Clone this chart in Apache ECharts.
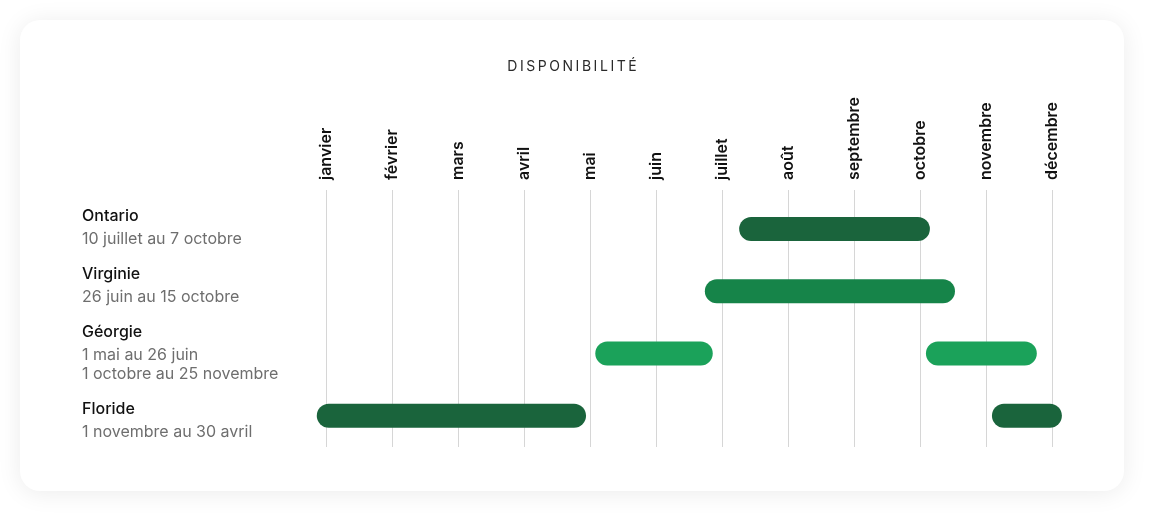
<!DOCTYPE html>
<html>
<head>
<meta charset="utf-8">
<script src="https://cdn.jsdelivr.net/npm/echarts@6/dist/echarts.min.js"></script>
<style>
html,body{margin:0;padding:0;background:#ffffff;}
#c{width:1152px;height:519px;}
</style>
</head>
<body>
<div id="c"></div>
<script>
// ---- data ----
var titleText = 'DISPONIBILITÉ';
var months = ['janvier','février','mars','avril','mai','juin','juillet','août','septembre','octobre','novembre','décembre'];
var regions = ['Ontario','Virginie','Géorgie','Floride'];
var periodTexts = [
  ['10 juillet au 7 octobre'],
  ['26 juin au 15 octobre'],
  ['1 mai au 26 juin','1 octobre au 25 novembre'],
  ['1 novembre au 30 avril']
];
// bars: [start (months from 1 Jan), end, row index, colour index]
var barStarts = [6.26, 5.74, 4.08, 9.09, -0.14, 10.09];
var barEnds   = [9.15, 9.53, 5.86, 10.77, 3.94, 11.15];
var barRows   = [0, 1, 2, 2, 3, 3];
var barColorIdx = [0, 1, 2, 2, 0, 0];
var palette = ['#1a643c', '#168449', '#1ba25a'];

var chart = echarts.init(document.getElementById('c'));
var barData = barStarts.map(function(s, i){ return [s, barEnds[i], barRows[i], barColorIdx[i]]; });

function spaced(t){ return t.split('').join('\u2009'); }

var option = {
  backgroundColor: '#ffffff',
  animation: false,
  title: {
    text: spaced(titleText),
    left: 567, top: 55, textAlign: 'center',
    textStyle: {fontFamily: 'Inter', fontSize: 14, fontWeight: 400, color: '#2a2a2a'}
  },
  grid: {left: 326, right: 100, top: 190, bottom: 72},
  xAxis: {
    type: 'value', position: 'top', min: 0, max: 11, interval: 1,
    axisLine: {show: false}, axisTick: {show: false},
    splitLine: {show: true, lineStyle: {color: '#d6d6d6', width: 1}},
    axisLabel: {
      rotate: 90, margin: 10,
      fontFamily: 'Inter', fontSize: 16, fontWeight: 600, color: '#111111',
      formatter: function(v){ return months[Math.round(v)] || ''; }
    }
  },
  yAxis: {
    type: 'value', inverse: true, min: -0.625, max: 3.5, show: false,
    splitLine: {show: false}
  },
  series: [{
    type: 'custom',
    clip: false,
    data: barData,
    renderItem: function(params, api){
      var p1 = api.coord([api.value(0), api.value(2)]);
      var p2 = api.coord([api.value(1), api.value(2)]);
      var h = 24;
      return {
        type: 'rect',
        shape: {x: p1[0], y: p1[1] - h/2, width: p2[0] - p1[0], height: h, r: h/2},
        style: {fill: palette[api.value(3)]}
      };
    }
  }],
  graphic: []
};

// card + left labels
var g = [{
  type: 'rect', z: -10, silent: true,
  shape: {x: 20, y: 20, width: 1104, height: 471, r: 20},
  style: {fill: '#ffffff', shadowBlur: 24, shadowColor: 'rgba(0,0,0,0.08)', shadowOffsetY: 2}
}];
var y = 216.5;
regions.forEach(function(name, i){
  g.push({type: 'text', x: 82, y: y, style: {text: name, fontFamily: 'Inter', fontSize: 16, fontWeight: 500, fill: '#111111', verticalAlign: 'middle'}});
  y += 23;
  periodTexts[i].forEach(function(t, j){
    if (j > 0) y += 18.8;
    g.push({type: 'text', x: 82, y: y, style: {text: t, fontFamily: 'Inter', fontSize: 16, fontWeight: 400, fill: '#6e6e6e', verticalAlign: 'middle'}});
  });
  y += 35;
});
option.graphic = g;
chart.setOption(option);
</script>
</body>
</html>
